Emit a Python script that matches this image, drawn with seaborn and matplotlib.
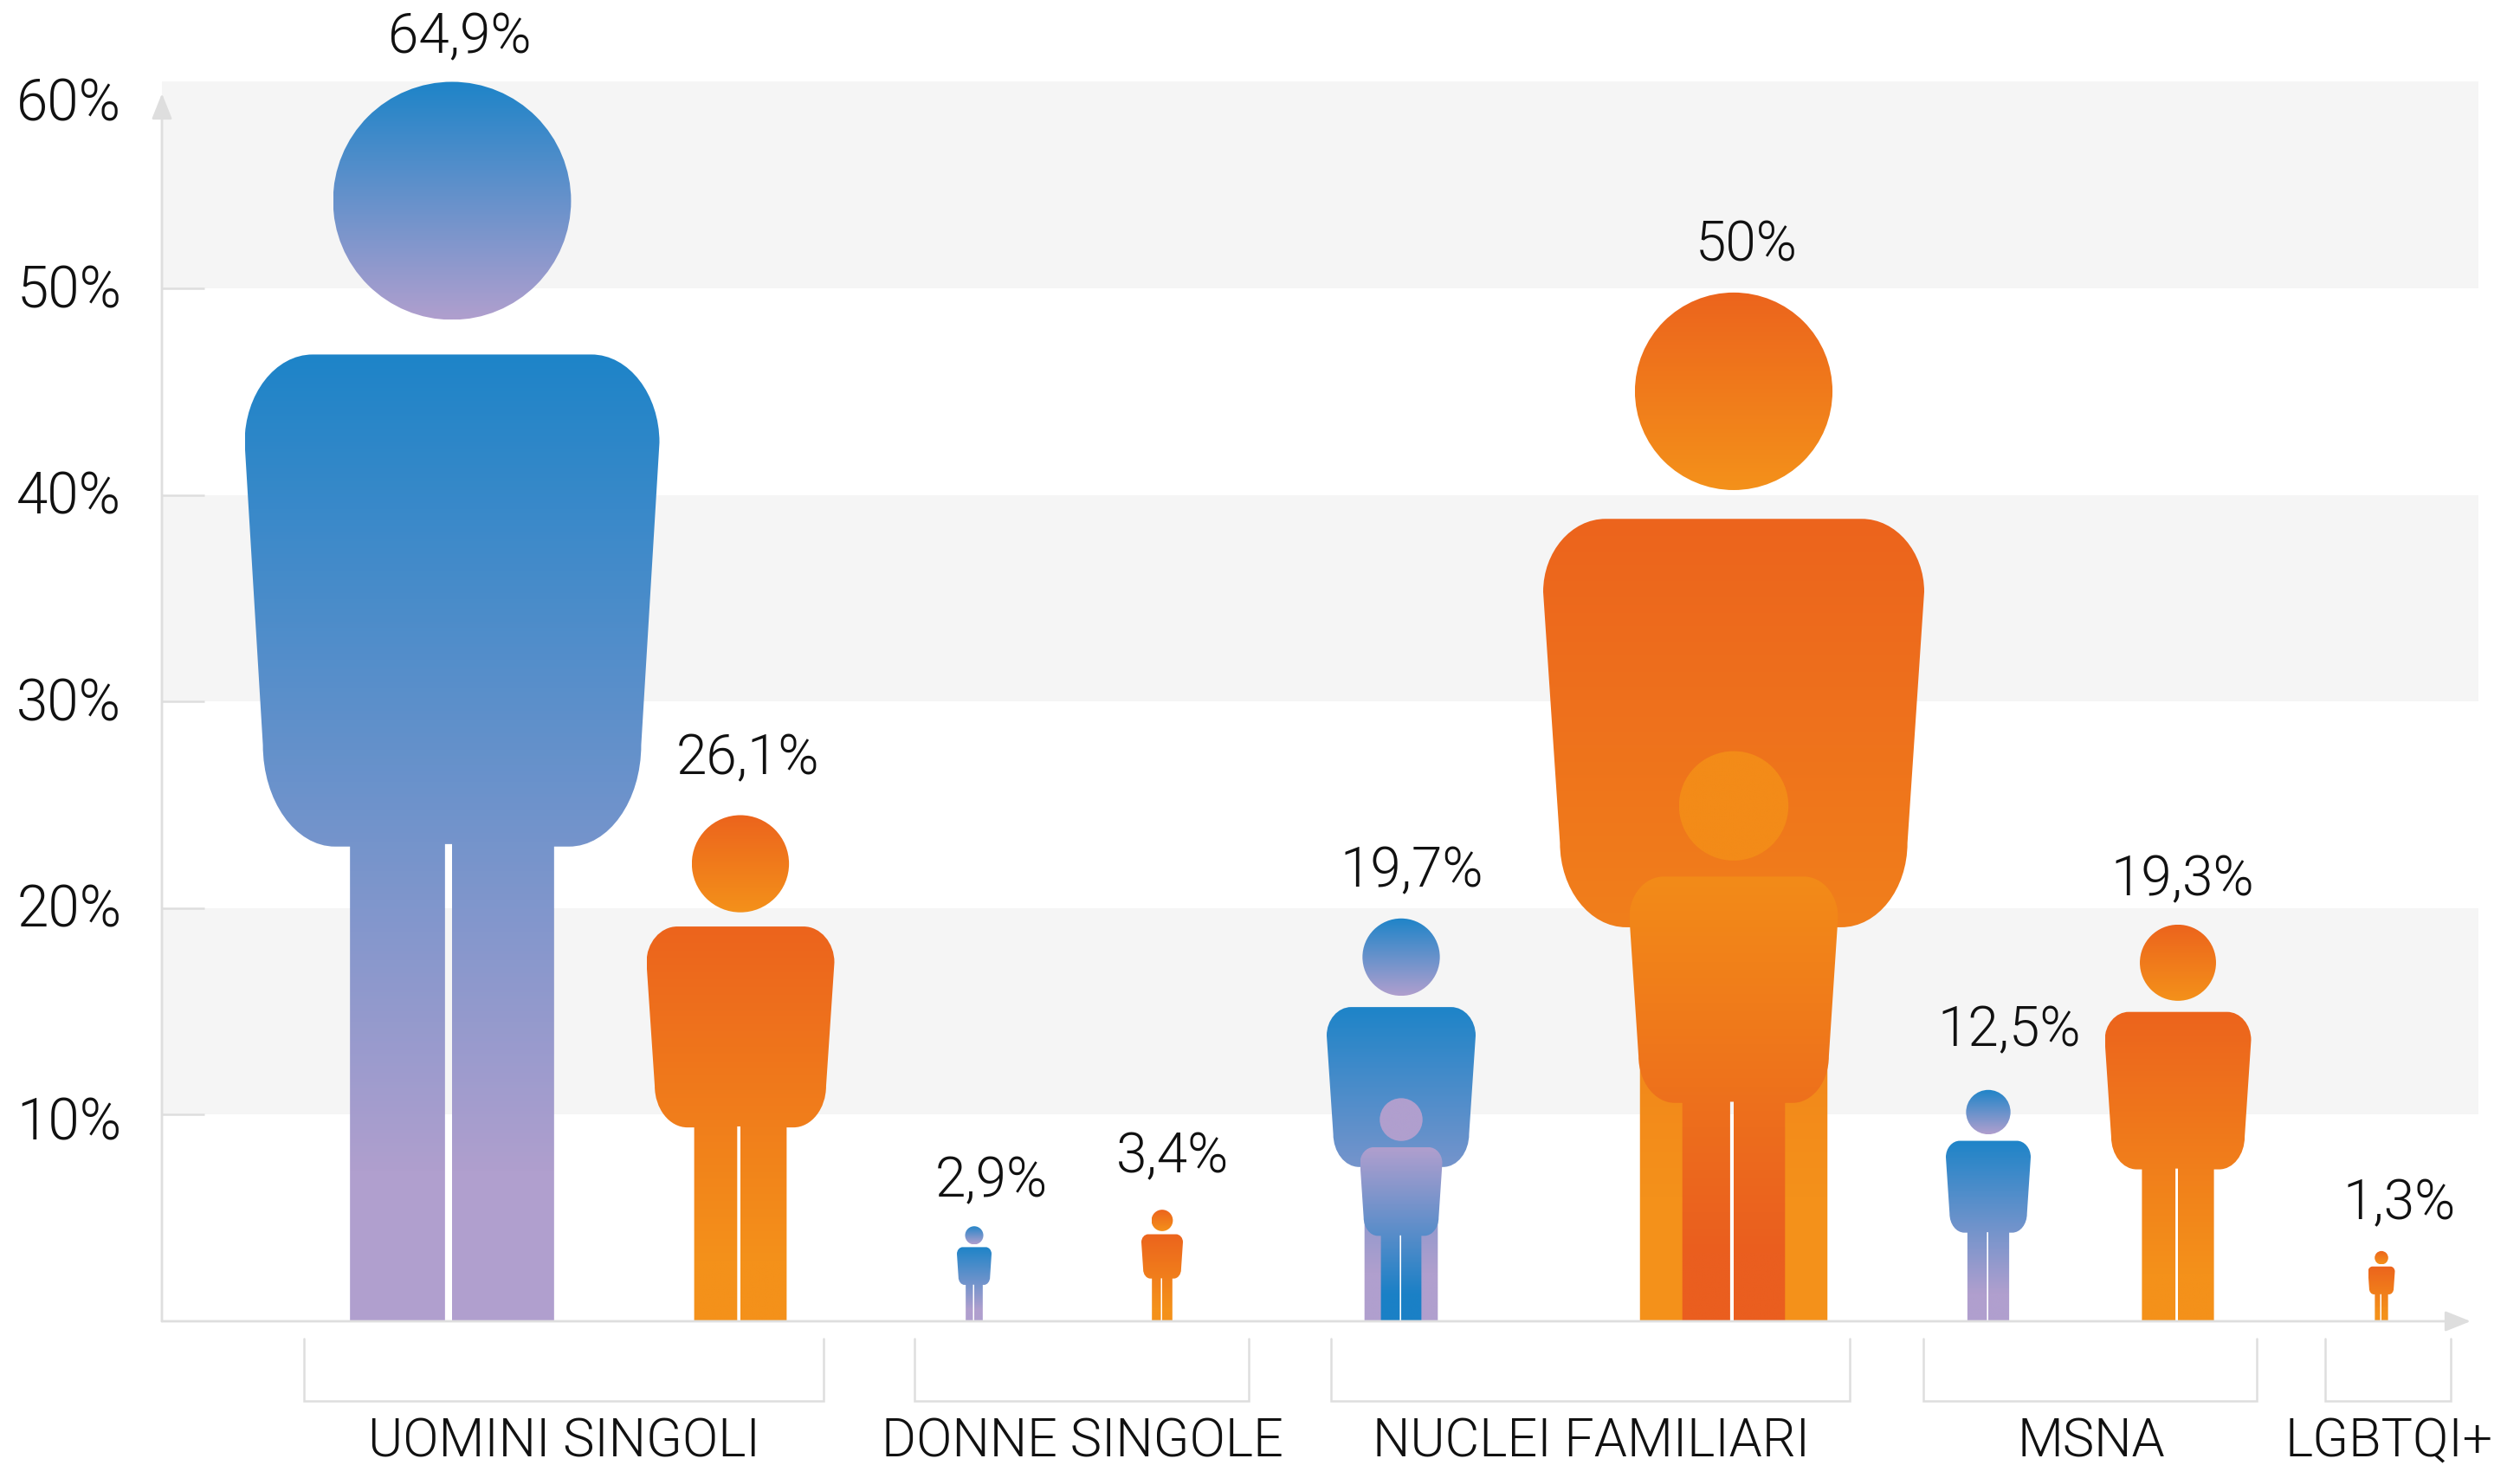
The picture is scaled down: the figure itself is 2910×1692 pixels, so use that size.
import matplotlib
matplotlib.use('Agg')
import matplotlib.pyplot as plt
from matplotlib.patches import Ellipse, PathPatch
from matplotlib.path import Path
from matplotlib.transforms import ScaledTranslation
import numpy as np
import seaborn as sns

# values printed above each figure
values = [64.9, 26.1, 2.9, 3.4, 19.7, 50, 12.5, 19.3, 1.3]
# the figures are not to scale with the labels, heights are read off the y axis
figure_heights = [60.0, 24.5, 4.6, 5.4, 19.5, 49.8, 11.2, 19.2, 3.4]
child_heights = {4: 10.8, 5: 27.6}
series = ['blue', 'orange', 'blue', 'orange', 'blue', 'orange', 'blue', 'orange', 'orange']

groups = ['UOMINI SINGOLI', 'DONNE SINGOLE', 'NUCLEI FAMILIARI', 'MSNA', 'LGBTQI+']
y_ticks = [10, 20, 30, 40, 50, 60]

# layout, in pixels of the final image
W, H = 2910, 1692
DPI = 200
LEFT, RIGHT, BASE, TOP = 187, 2862, 1526, 94.5
figure_x = [522, 855, 1125, 1342, 1618, 2002, 2296, 2515, 2750]
figure_w = [479, 217, 40, 48, 172, 440, 98, 169, 31]
child_w = {4: 95, 5: 241}
label_x = [531, 863, 1145, 1354, 1630, 2017, 2320, 2520, 2771]
label_base = [61, 894, 1382, 1354, 1024, 302, 1208, 1034, 1408]
bracket_x = [(351, 951), (1056, 1442), (1537, 2136), (2221, 2606), (2685, 2830)]
group_x = [651, 1250, 1837, 2415, 2759]
# tick labels do not sit exactly on their levels in the original (px, + is up)
tick_nudge = [-4, 3, 3, 3, 3, -20]

GREY = '#dedede'
BAND = '#f5f5f5'
INK = '#111111'
TICK_FONT = 23.6
VALUE_FONT = 23
GROUP_FONT = 22
PX_PER_PCT = (BASE - TOP) / 60

sns.set_theme(style='white')
plt.rcParams['font.family'] = ['Roboto', 'DejaVu Sans']
plt.rcParams['font.weight'] = 300

blue_cmap = sns.blend_palette(['#1e84c8', '#b09fce'], as_cmap=True)
orange_cmap = sns.blend_palette(['#ec641d', '#f4911a'], as_cmap=True)
lilac_blue_cmap = sns.blend_palette(['#b09fce', '#1a80c6'], as_cmap=True)
amber_red_cmap = sns.blend_palette(['#f38b18', '#ea5e1f'], as_cmap=True)
lilac_cmap = sns.blend_palette(['#b09fce', '#b09fce'], as_cmap=True)
amber_cmap = sns.blend_palette(['#f38b18', '#f38b18'], as_cmap=True)


def px_y(y):
    return (BASE - y) / PX_PER_PCT


def body_path(cx, w, h):
    # one half of the outline as fractions of width / height, mirrored for the other side
    g = max(0.017, 1.5 / w)
    half = [
        (0.336, 0.78), (0.426, 0.78), (0.5, 0.748), (0.5, 0.709),
        (0.456, 0.465), (0.456, 0.42), (0.378, 0.383), (0.282, 0.383),
        (0.246, 0.383), (0.246, 0.0),
    ]
    half_codes = [Path.LINETO, Path.CURVE4, Path.CURVE4, Path.CURVE4,
                  Path.LINETO, Path.CURVE4, Path.CURVE4, Path.CURVE4,
                  Path.LINETO, Path.LINETO]
    verts = list(half) + [(0, 0), (0, 0.385), (-g, 0.385), (-g, 0), (-0.246, 0)]
    codes = list(half_codes) + [Path.LINETO] * 5
    back = [(-x, y) for x, y in half[::-1]]
    verts += back[1:]
    # curves read the same backwards, so the codes just shift by one
    codes += [Path.LINETO, Path.LINETO, Path.CURVE4, Path.CURVE4, Path.CURVE4,
              Path.LINETO, Path.CURVE4, Path.CURVE4, Path.CURVE4]
    codes[0] = Path.MOVETO
    verts = [(cx + x * w, y * h) for x, y in verts]
    verts.append(verts[0])
    codes.append(Path.CLOSEPOLY)
    return Path(verts, codes)


def gradient(ax, cmap, patch, extent, zorder, stop=1.0):
    # stop: where along the shape the gradient reaches its last colour
    ax.add_patch(patch)
    ramp = np.clip(np.linspace(0, 1, 256) / stop, 0, 1).reshape(-1, 1)
    im = ax.imshow(ramp, cmap=cmap, vmin=0, vmax=1, extent=extent, aspect='auto',
                   origin='upper', interpolation='bilinear', zorder=zorder)
    im.set_clip_path(patch)


def draw_person(ax, cx, w, h, body_cmap, head_cmap, zorder=3):
    body = PathPatch(body_path(cx, w, h), facecolor='none', edgecolor='none')
    gradient(ax, body_cmap, body, (cx - w / 2, cx + w / 2, 0, 0.78 * h), zorder, stop=0.85)

    # head is round in pixels, whatever the width of the body
    d_pct = 0.192 * h
    d_px = d_pct * PX_PER_PCT
    yc = h - d_pct / 2
    head = Ellipse((cx, yc), d_px, d_pct, facecolor='none', edgecolor='none')
    gradient(ax, head_cmap, head, (cx - d_px / 2, cx + d_px / 2, h - d_pct, h), zorder)


fig = plt.figure(figsize=(W / DPI, H / DPI), dpi=DPI, facecolor='white')
ax = fig.add_axes([LEFT / W, (H - BASE) / H, (RIGHT - LEFT) / W, (BASE - TOP) / H])
ax.set_facecolor('white')

# alternating bands
for low in y_ticks[::2]:
    ax.axhspan(low, low + 10, color=BAND, lw=0, zorder=0)

for i, val in enumerate(values):
    if series[i] == 'blue':
        draw_person(ax, figure_x[i], figure_w[i], figure_heights[i], blue_cmap, blue_cmap)
    else:
        draw_person(ax, figure_x[i], figure_w[i], figure_heights[i], orange_cmap, orange_cmap)

    ax.text(label_x[i], px_y(label_base[i]), f'{val:g}%'.replace('.', ','),
            ha='center', va='baseline', fontsize=VALUE_FONT, color=INK, fontweight=300)

# children in front of the family figures
draw_person(ax, figure_x[4], child_w[4], child_heights[4], lilac_blue_cmap, lilac_cmap, zorder=4)
draw_person(ax, figure_x[5], child_w[5], child_heights[5], amber_red_cmap, amber_cmap, zorder=4)

# brackets under the x axis
br_top, br_bot = px_y(1546), px_y(1618)
for i, (x0, x1) in enumerate(bracket_x):
    sns.lineplot(x=[x0, x0, x1, x1], y=[br_top, br_bot, br_bot, br_top], sort=False,
                 estimator=None, color=GREY, linewidth=0.9, clip_on=False, ax=ax,
                 solid_joinstyle='miter')
    ax.text(group_x[i], px_y(1682), groups[i], ha='center', va='baseline',
            fontsize=GROUP_FONT, color=INK, fontweight=300)

# axes with arrow tips
arrow = dict(arrowstyle='-|>,head_length=0.9,head_width=0.36', mutation_scale=10,
             color=GREY, lw=1.0, shrinkA=0, shrinkB=0)
ax.annotate('', xy=(2853, 0), xytext=(LEFT, 0), arrowprops=arrow, annotation_clip=False, zorder=6)
ax.annotate('', xy=(LEFT, px_y(108)), xytext=(LEFT, 0), arrowprops=arrow, annotation_clip=False, zorder=6)

ax.set_xlim(LEFT, RIGHT)
ax.set_ylim(0, 60)
ax.set_xticks([])
ax.set_yticks(y_ticks)
ax.set_yticklabels([f'{t}%' for t in y_ticks], fontsize=TICK_FONT, color=INK, fontweight=300)
ax.set_xlabel('')
ax.set_ylabel('')
ax.grid(False)
ax.tick_params(axis='y', direction='in', left=True, length=17.6, width=0.9, color=GREY, pad=16.8)

for tick, nudge in zip(ax.yaxis.get_major_ticks(), tick_nudge):
    tick.label1.set_transform(tick.label1.get_transform()
                              + ScaledTranslation(0, nudge / DPI, fig.dpi_scale_trans))
# the arrow stands where the 60% tick would be
ax.yaxis.get_major_ticks()[-1].tick1line.set_visible(False)

sns.despine(ax=ax, left=True, bottom=True, top=True, right=True)

plt.savefig('out.png', dpi=DPI)
plt.close()
